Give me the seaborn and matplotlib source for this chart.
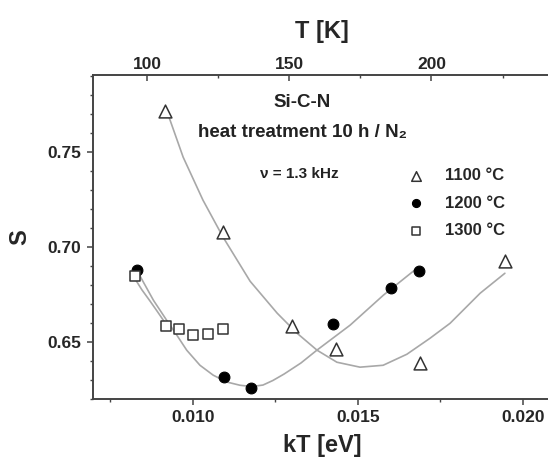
import pandas as pd
import matplotlib
matplotlib.use('Agg')
import matplotlib.pyplot as plt
import seaborn as sns
from matplotlib.ticker import MultipleLocator, FormatStrFormatter

sns.set_theme(style='ticks')
plt.rcParams['font.family'] = ['Liberation Sans', 'DejaVu Sans']
plt.rcParams['font.weight'] = 'bold'

K_B = 8.617e-5  # Boltzmann constant, eV/K

# measured points, kT [eV] and S
kt_1100 = [0.00916, 0.01093, 0.01300, 0.01434, 0.01689, 0.01946]
s_1100 = [0.7716, 0.7079, 0.6581, 0.6463, 0.6388, 0.6926]
kt_1200 = [0.00830, 0.01095, 0.01177, 0.01426, 0.01600, 0.01686]
s_1200 = [0.6877, 0.6314, 0.6257, 0.6593, 0.6786, 0.6872]
kt_1300 = [0.00826, 0.00919, 0.00959, 0.01002, 0.01045, 0.01091]
s_1300 = [0.6846, 0.6584, 0.6567, 0.6537, 0.6541, 0.6570]

# fit curves
fit_kt_1100 = [0.00925, 0.00971, 0.01031, 0.01092, 0.01174, 0.01256, 0.01316,
               0.01377, 0.01437, 0.01507, 0.01577, 0.01649, 0.01719, 0.01780,
               0.01871, 0.01946]
fit_s_1100 = [0.7698, 0.7472, 0.7246, 0.7051, 0.6819, 0.6651, 0.6546,
              0.6456, 0.6393, 0.6367, 0.6377, 0.6435, 0.6519, 0.6598,
              0.6756, 0.6861]
fit_kt_1200 = [0.00835, 0.00881, 0.00921, 0.00952, 0.00982, 0.01022, 0.01062,
               0.01103, 0.01143, 0.01179, 0.01213, 0.01243, 0.01277, 0.01328,
               0.01376, 0.01477, 0.01578, 0.01680]
fit_s_1200 = [0.6863, 0.6719, 0.6614, 0.6535, 0.6456, 0.6377, 0.6325,
              0.6289, 0.6272, 0.6265, 0.6273, 0.6297, 0.6331, 0.6389,
              0.6456, 0.6588, 0.6746, 0.6888]
fit_kt_1300 = [0.00825, 0.00846, 0.00871, 0.00892, 0.00913]
fit_s_1300 = [0.6832, 0.6774, 0.6714, 0.6662, 0.6609]

labels = ['1100 °C', '1200 °C', '1300 °C']

fig = plt.figure(figsize=(5.48, 4.65), dpi=100)
ax = fig.add_axes([0.1692, 0.1413, 0.8363, 0.6974])

line_kw = dict(color='#a8a8a8', linewidth=1.2, estimator=None, sort=False)
sns.lineplot(x=fit_kt_1100, y=fit_s_1100, ax=ax, **line_kw)
sns.lineplot(x=fit_kt_1200, y=fit_s_1200, ax=ax, **line_kw)
sns.lineplot(x=fit_kt_1300, y=fit_s_1300, ax=ax, **line_kw)

sns.scatterplot(x=kt_1100, y=s_1100, ax=ax, marker='^', s=85,
                facecolor='white', edgecolor='#333333', linewidth=1.1,
                label=labels[0], zorder=3)
sns.scatterplot(x=kt_1200, y=s_1200, ax=ax, marker='o', s=60,
                facecolor='black', edgecolor='black', linewidth=0.8,
                label=labels[1], zorder=3)
sns.scatterplot(x=kt_1300, y=s_1300, ax=ax, marker='s', s=60,
                facecolor='white', edgecolor='#333333', linewidth=1.1,
                label=labels[2], zorder=3)

ax.set_xlim(0.00697, 0.020858)
ax.set_ylim(0.6198, 0.7904)

ax.xaxis.set_major_locator(MultipleLocator(0.005))
ax.xaxis.set_minor_locator(MultipleLocator(0.0025))
ax.xaxis.set_major_formatter(FormatStrFormatter('%.3f'))
ax.yaxis.set_major_locator(MultipleLocator(0.05))
ax.yaxis.set_minor_locator(MultipleLocator(0.01))
ax.yaxis.set_major_formatter(FormatStrFormatter('%.2f'))

for sp in ax.spines.values():
    sp.set_color('#444444')
    sp.set_linewidth(1.2)
ax.spines['right'].set_visible(False)

ax.tick_params(axis='both', which='major', direction='out', length=4,
               width=1.1, color='#444444', labelsize=12.5, pad=4)
ax.tick_params(axis='both', which='minor', direction='out', length=2.5,
               width=1.0, color='#444444')

ax.set_xlabel('kT [eV]', fontsize=17, fontweight='bold', labelpad=6)
ax.set_ylabel('S', fontsize=17, fontweight='bold', labelpad=12)

# top axis in kelvin
ax2 = ax.twiny()
ax2.set_xlim(ax.get_xlim()[0] / K_B, ax.get_xlim()[1] / K_B)
ax2.xaxis.set_major_locator(MultipleLocator(50))
ax2.xaxis.set_minor_locator(MultipleLocator(25))
ax2.tick_params(axis='x', which='major', direction='in', length=4,
                width=1.1, color='#444444', labelsize=12.5, pad=2)
ax2.tick_params(axis='x', which='minor', direction='in', length=2.5,
                width=1.0, color='#444444')
ax2.set_xlabel('T [K]', fontsize=17, fontweight='bold', labelpad=14)
for sp in ax2.spines.values():
    sp.set_color('#444444')
    sp.set_linewidth(1.2)
ax2.spines['right'].set_visible(False)

ax.text(0.4567, 0.9137, 'Si-C-N', transform=ax.transAxes, ha='center',
        va='center', fontsize=13.5, fontweight='bold', color='#222222')
ax.text(0.4567, 0.8242, 'heat treatment 10 h / N\u2082', transform=ax.transAxes,
        ha='center', va='center', fontsize=13.5, fontweight='bold',
        color='#222222')
ax.text(0.450, 0.6947, '\u03bd = 1.3 kHz', transform=ax.transAxes,
        ha='center', va='center', fontsize=11, fontweight='bold',
        color='#222222')

leg = ax.legend(loc='upper left', bbox_to_anchor=(0.6685, 0.738),
                frameon=False, borderpad=0, handlelength=1.0,
                handletextpad=1.24, labelspacing=0.75, markerscale=0.75,
                prop={'size': 12, 'weight': 'bold'})

fig.savefig('out.png', dpi=100)
